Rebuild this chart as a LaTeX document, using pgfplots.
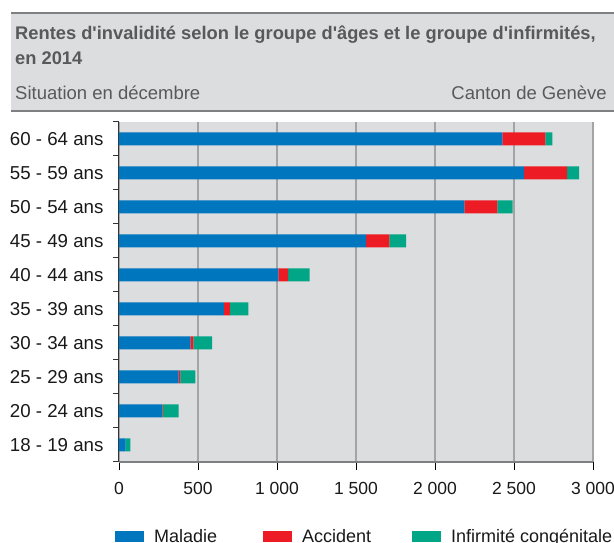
\documentclass[border=0pt]{standalone}
\usepackage{pgfplots}
\pgfplotsset{compat=1.18}
\usepackage{pgfplotstable}
\usepackage{fontspec}
\setmainfont{Liberation Sans}
\newfontfamily\plainfont{Liberation Sans}
\definecolor{bggray}{HTML}{DCDDDF}
\definecolor{gridgray}{HTML}{A3A4A6}
\definecolor{linegray}{HTML}{7F8083}
\definecolor{txtgray}{HTML}{58595B}
\definecolor{cblue}{HTML}{0076BE}
\definecolor{cred}{HTML}{ED1C24}
\definecolor{cgreen}{HTML}{00A685}

% y: 0 = 18-19 ans ... 9 = 60-64 ans
\pgfplotstableread{
y maladie accident congen
0 42   0   30
1 272  4   102
2 378  11  95
3 452  19  118
4 663  38  118
5 1009 61  137
6 1564 147 106
7 2186 209 97
8 2564 272 76
9 2427 272 44
}\datatable

\begin{document}
\begin{tikzpicture}
\useasboundingbox (0pt,0pt) rectangle (614pt,543pt);
% title band (image y -> 543 - y)
\fill[bggray] (11pt,530pt) rectangle (614pt,432pt);
\draw[linegray, line width=1.5pt] (11pt,530pt) -- (614pt,530pt);
\draw[linegray, line width=1.5pt] (11pt,432pt) -- (614pt,432pt);
\node[anchor=base west, inner sep=0pt, text=txtgray, font=\plainfont\fontsize{18.3}{21}\selectfont\bfseries] at (15pt,503pt) {Rentes d'invalidité selon le groupe d'âges et le groupe d'infirmités,};
\node[anchor=base west, inner sep=0pt, text=txtgray, font=\plainfont\fontsize{18.3}{21}\selectfont\bfseries] at (15pt,478pt) {en 2014};
\node[anchor=base west, inner sep=0pt, text=txtgray, font=\fontsize{18.5}{21}\selectfont] at (15pt,443pt) {Situation en décembre};
\node[anchor=base east, inner sep=0pt, text=txtgray, font=\fontsize{18.5}{21}\selectfont] at (607pt,443pt) {Canton de Genève};

\begin{axis}[
  at={(119pt,81pt)}, anchor=south west,
  scale only axis, width=474pt, height=340pt,
  xbar stacked, bar width=13pt,
  xmin=0, xmax=3000, ymin=-0.5, ymax=9.5,
  axis x line*=bottom, axis y line*=left,
  axis background/.style={fill=bggray},
  x axis line style={linegray, line width=2pt},
  y axis line style={black!80, line width=1pt},
  xtick={0,500,...,3000},
  xticklabels={0,500,1 000,1 500,2 000,2 500,3 000},
  xmajorgrids, grid style={gridgray, line width=1.5pt},
  major x tick style={black, line width=0.8pt},
  tick align=outside,
  major tick length=8pt,
  ytick={0,...,9},
  yticklabels={18 - 19 ans,20 - 24 ans,25 - 29 ans,30 - 34 ans,35 - 39 ans,40 - 44 ans,45 - 49 ans,50 - 54 ans,55 - 59 ans,60 - 64 ans},
  minor ytick={-0.5,0.5,...,9.5},
  major y tick style={draw=none},
  minor y tick style={draw=black!80, line width=1pt},
  minor tick length=6pt,
  yticklabel style={font=\fontsize{18.7}{21}\selectfont, text=black!90, xshift=-4pt},
  xticklabel style={font=\fontsize{17.5}{21}\selectfont, text=black!90, yshift=-9pt},
  legend columns=3,
  legend style={at={(-0.008,-0.219)}, anchor=west, draw=none, fill=none,
    inner sep=0pt, outer sep=0pt,
    nodes={inner sep=0pt, outer sep=0pt},
    font=\fontsize{18}{21}\selectfont, text=black!90,
    /tikz/every odd column/.append style={column sep=10pt},
    /tikz/every even column/.append style={column sep=0pt}},
  legend cell align=left,
  myleg/.style={legend image code/.code={\fill[##1] (0pt,-5.5pt) rectangle (29pt,5.5pt);}},
]
\addplot[fill=cblue, draw=none, myleg] table[x=maladie, y=y] {\datatable};
\addplot[fill=cred, draw=none, myleg] table[x=accident, y=y] {\datatable};
\addplot[fill=cgreen, draw=none, myleg] table[x=congen, y=y] {\datatable};
\legend{\makebox[109pt][l]{Maladie},\makebox[110pt][l]{Accident},Infirmité congénitale}
\end{axis}
\end{tikzpicture}
\end{document}
